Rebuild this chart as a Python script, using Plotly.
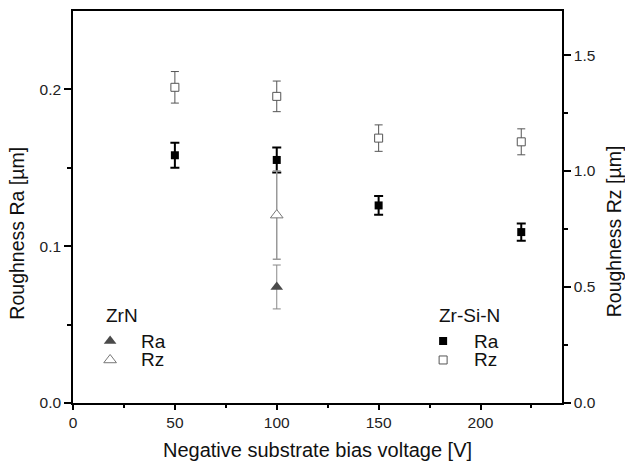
import plotly.graph_objects as go

# Zr-Si-N coatings
bias_zrsin = [50, 100, 150, 220]
ra_zrsin = [0.158, 0.155, 0.126, 0.109]
ra_zrsin_err = [0.008, 0.008, 0.006, 0.0055]
rz_zrsin = [1.361, 1.322, 1.142, 1.126]
rz_zrsin_err = [0.068, 0.066, 0.057, 0.056]

# ZrN coating
bias_zrn = [100]
ra_zrn = [0.074]
ra_zrn_err = [0.014]
rz_zrn = [0.81]
rz_zrn_err = [0.19]

FONT = "Liberation Sans, Arial, sans-serif"
TXT = "#111111"

fig = go.Figure()

fig.add_trace(go.Scatter(
    x=bias_zrn, y=rz_zrn, yaxis="y2", mode="markers", name=" ",
    legend="legend",
    marker=dict(symbol="triangle-up", size=11, color="white",
                line=dict(color="#777777", width=1)),
    error_y=dict(type="data", array=rz_zrn_err, color="#999999",
                 thickness=1.5, width=4)))
fig.add_trace(go.Scatter(
    x=bias_zrn, y=ra_zrn, mode="markers", name=" ", legend="legend",
    marker=dict(symbol="triangle-up", size=11, color="#4a4a4a",
                line=dict(color="#4a4a4a", width=0)),
    error_y=dict(type="data", array=ra_zrn_err, color="#888888",
                 thickness=1, width=4)))
fig.add_trace(go.Scatter(
    x=bias_zrsin, y=rz_zrsin, yaxis="y2", mode="markers", name=" ",
    legend="legend2",
    marker=dict(symbol="square", size=8, color="white",
                line=dict(color="#555555", width=1)),
    error_y=dict(type="data", array=rz_zrsin_err, color="#555555",
                 thickness=1, width=4)))
fig.add_trace(go.Scatter(
    x=bias_zrsin, y=ra_zrsin, mode="markers", name=" ", legend="legend2",
    marker=dict(symbol="square", size=8, color="black",
                line=dict(color="black", width=0)),
    error_y=dict(type="data", array=ra_zrsin_err, color="black",
                 thickness=2, width=4.5)))

axis_common = dict(showline=True, linecolor="black", linewidth=1.5,
                   showgrid=False, zeroline=False, ticks="outside",
                   tickcolor="black", tickwidth=1.5,
                   tickfont=dict(family=FONT, size=15.5, color="#222222"))

legend_common = dict(xanchor="left", yanchor="middle", y=0.134,
                     traceorder="reversed",
                     font=dict(family=FONT, size=1, color=TXT),
                     bgcolor="rgba(0,0,0,0)", itemwidth=30, tracegroupgap=0)

def label(text, x, y, size=19):
    return dict(text=text, xref="paper", yref="paper", x=x, y=y,
                xanchor="left", yanchor="middle", showarrow=False,
                font=dict(family=FONT, size=size, color=TXT))

fig.update_layout(
    width=625, height=464,
    margin=dict(l=73, r=63, t=9, b=61),
    paper_bgcolor="white", plot_bgcolor="white",
    showlegend=True,
    xaxis=dict(range=[0, 240], tickvals=[0, 50, 100, 150, 200], mirror=True,
               ticklen=5,
               minor=dict(tickvals=[25, 75, 125, 175, 225], ticklen=3,
                          ticks="outside", tickcolor="black", tickwidth=1.5),
               **axis_common),
    yaxis=dict(range=[0, 0.25], tickvals=[0.0, 0.1, 0.2],
               ticktext=["0.0", "0.1", "0.2"], ticklen=7,
               minor=dict(tickvals=[0.05, 0.15], ticklen=4, ticks="outside",
                          tickcolor="black", tickwidth=1.5),
               **axis_common),
    yaxis2=dict(range=[0, 1.69], overlaying="y", side="right",
                tickvals=[0.0, 0.5, 1.0, 1.5],
                ticktext=["0.0", "0.5", "1.0", "1.5"], ticklen=7,
                minor=dict(tickvals=[0.25, 0.75, 1.25], ticklen=4,
                           ticks="outside", tickcolor="black", tickwidth=1.5),
                **axis_common),
    legend=dict(x=0.035, **legend_common),
    legend2=dict(x=0.716, **legend_common),
    annotations=[
        dict(text="Negative substrate bias voltage [V]", xref="paper", yref="paper",
             x=0.5, y=-0.119, xanchor="center", yanchor="middle", showarrow=False,
             font=dict(family=FONT, size=20, color=TXT)),
        dict(text="Roughness Ra [µm]", xref="paper", yref="paper", textangle=-90,
             x=-0.115, y=0.434, xanchor="center", yanchor="middle", showarrow=False,
             font=dict(family=FONT, size=19.5, color=TXT)),
        dict(text="Roughness Rz [µm]", xref="paper", yref="paper", textangle=-90,
             x=1.1055, y=0.437, xanchor="center", yanchor="middle", showarrow=False,
             font=dict(family=FONT, size=19.5, color=TXT)),
        label("ZrN", 0.0634, 0.2234),
        label("Ra", 0.135, 0.158),
        label("Rz", 0.135, 0.110),
        label("Zr-Si-N", 0.744, 0.2234),
        label("Ra", 0.816, 0.158),
        label("Rz", 0.816, 0.110),
    ],
)

fig.write_html("out.html",
               config={"displayModeBar": False},
               post_script="document.body.style.margin='0px';"
                           "document.body.style.overflow='hidden';")
